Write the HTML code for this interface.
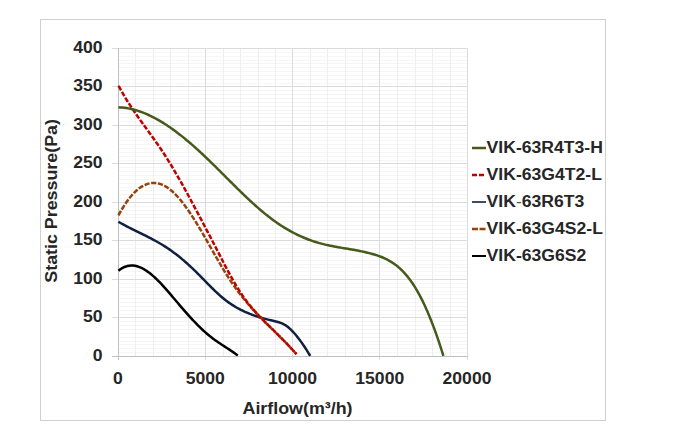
<!DOCTYPE html>
<html><head><meta charset="utf-8"><style>
html,body{margin:0;padding:0;background:#fff;width:686px;height:448px;overflow:hidden;}
svg{display:block;}
text{font-family:"Liberation Sans",sans-serif;}
</style></head><body>
<svg width="686" height="448" viewBox="0 0 686 448">
<rect x="0" y="0" width="686" height="448" fill="#fff"/>
<rect x="40.5" y="19.5" width="565" height="401" fill="none" stroke="#d0d0d0" stroke-width="1"/>
<path d="M119.0 352.5H467.0M119.0 348.5H467.0M119.0 344.5H467.0M119.0 341.5H467.0M119.0 337.5H467.0M119.0 333.5H467.0M119.0 329.5H467.0M119.0 325.5H467.0M119.0 321.5H467.0M119.0 314.5H467.0M119.0 310.5H467.0M119.0 306.5H467.0M119.0 302.5H467.0M119.0 298.5H467.0M119.0 294.5H467.0M119.0 291.5H467.0M119.0 287.5H467.0M119.0 283.5H467.0M119.0 275.5H467.0M119.0 271.5H467.0M119.0 267.5H467.0M119.0 264.5H467.0M119.0 260.5H467.0M119.0 256.5H467.0M119.0 252.5H467.0M119.0 248.5H467.0M119.0 244.5H467.0M119.0 237.5H467.0M119.0 233.5H467.0M119.0 229.5H467.0M119.0 225.5H467.0M119.0 221.5H467.0M119.0 217.5H467.0M119.0 214.5H467.0M119.0 210.5H467.0M119.0 206.5H467.0M119.0 198.5H467.0M119.0 194.5H467.0M119.0 190.5H467.0M119.0 187.5H467.0M119.0 183.5H467.0M119.0 179.5H467.0M119.0 175.5H467.0M119.0 171.5H467.0M119.0 167.5H467.0M119.0 160.5H467.0M119.0 156.5H467.0M119.0 152.5H467.0M119.0 148.5H467.0M119.0 144.5H467.0M119.0 140.5H467.0M119.0 137.5H467.0M119.0 133.5H467.0M119.0 129.5H467.0M119.0 121.5H467.0M119.0 117.5H467.0M119.0 113.5H467.0M119.0 110.5H467.0M119.0 106.5H467.0M119.0 102.5H467.0M119.0 98.5H467.0M119.0 94.5H467.0M119.0 90.5H467.0M119.0 83.5H467.0M119.0 79.5H467.0M119.0 75.5H467.0M119.0 71.5H467.0M119.0 67.5H467.0M119.0 63.5H467.0M119.0 60.5H467.0M119.0 56.5H467.0M119.0 52.5H467.0" stroke="#f6f6f6" stroke-width="1" fill="none"/>
<path d="M135.5 49.0V356.0M153.5 49.0V356.0M170.5 49.0V356.0M188.5 49.0V356.0M223.5 49.0V356.0M240.5 49.0V356.0M258.5 49.0V356.0M275.5 49.0V356.0M310.5 49.0V356.0M327.5 49.0V356.0M345.5 49.0V356.0M362.5 49.0V356.0M397.5 49.0V356.0M415.5 49.0V356.0M432.5 49.0V356.0M450.5 49.0V356.0" stroke="#eeeeee" stroke-width="1" fill="none"/>
<path d="M112.0 317.5H468.0M112.0 279.5H468.0M112.0 240.5H468.0M112.0 202.5H468.0M112.0 163.5H468.0M112.0 125.5H468.0M112.0 86.5H468.0M112.0 48.5H468.0M205.5 48.0V360.0M292.5 48.0V360.0M379.5 48.0V360.0M467.5 48.0V360.0" stroke="#dcdcdc" stroke-width="1" fill="none"/>
<path d="M112 356.5H468M118.5 48V360" stroke="#bfbfbf" stroke-width="1" fill="none"/>
<path d="M118.40 270.78 L119.99 269.57 L121.65 268.46 L123.40 267.50 L125.24 266.70 L127.14 266.10 L129.10 265.71 L131.09 265.53 L133.08 265.58 L135.07 265.83 L137.01 266.27 L138.92 266.88 L140.77 267.62 L142.57 268.49 L144.32 269.46 L146.02 270.51 L147.67 271.64 L149.28 272.83 L150.85 274.07 L152.38 275.35 L153.89 276.67 L155.36 278.03 L156.80 279.41 L158.22 280.82 L159.63 282.24 L161.01 283.69 L162.37 285.15 L163.72 286.63 L165.06 288.11 L166.39 289.61 L167.70 291.12 L169.01 292.63 L170.31 294.15 L171.61 295.67 L172.90 297.19 L174.19 298.72 L175.49 300.25 L176.78 301.78 L178.07 303.31 L179.36 304.83 L180.66 306.35 L181.96 307.87 L183.27 309.38 L184.59 310.89 L185.90 312.39 L187.23 313.89 L188.57 315.38 L189.91 316.86 L191.26 318.34 L192.62 319.80 L193.99 321.26 L195.37 322.70 L196.77 324.14 L198.17 325.56 L199.60 326.97 L201.03 328.36 L202.49 329.73 L203.96 331.09 L205.44 332.42 L206.95 333.74 L208.48 335.02 L210.03 336.29 L211.61 337.52 L213.20 338.73 L214.82 339.91 L216.45 341.07 L218.09 342.20 L219.75 343.32 L221.41 344.43 L223.08 345.53 L224.76 346.62 L226.44 347.71 L228.11 348.81 L229.78 349.91 L231.45 351.02 L233.10 352.14 L234.74 353.28 L236.37 354.44 L237.80 355.49" stroke="#000000" stroke-width="2.5" fill="none" stroke-linejoin="round"/>
<path d="M118.40 221.78 L120.14 222.77 L121.88 223.75 L123.64 224.71 L125.41 225.65 L127.18 226.57 L128.96 227.49 L130.74 228.39 L132.53 229.29 L134.32 230.17 L136.12 231.06 L137.91 231.94 L139.71 232.82 L141.50 233.70 L143.30 234.58 L145.09 235.47 L146.88 236.37 L148.66 237.27 L150.44 238.19 L152.21 239.11 L153.98 240.05 L155.73 241.01 L157.48 241.99 L159.22 242.98 L160.94 243.99 L162.65 245.02 L164.35 246.08 L166.04 247.15 L167.71 248.26 L169.36 249.38 L171.00 250.53 L172.62 251.70 L174.23 252.89 L175.82 254.10 L177.40 255.32 L178.97 256.57 L180.52 257.83 L182.05 259.11 L183.58 260.41 L185.09 261.71 L186.59 263.04 L188.08 264.37 L189.56 265.72 L191.03 267.08 L192.48 268.45 L193.93 269.83 L195.37 271.22 L196.79 272.62 L198.21 274.03 L199.62 275.45 L201.03 276.87 L202.43 278.30 L203.83 279.73 L205.23 281.16 L206.63 282.58 L208.03 284.01 L209.44 285.43 L210.85 286.85 L212.27 288.26 L213.69 289.66 L215.13 291.05 L216.58 292.43 L218.05 293.79 L219.53 295.13 L221.04 296.45 L222.56 297.74 L224.11 299.00 L225.68 300.24 L227.28 301.44 L228.90 302.62 L230.55 303.75 L232.21 304.86 L233.90 305.93 L235.61 306.96 L237.35 307.96 L239.10 308.92 L240.87 309.85 L242.66 310.74 L244.47 311.60 L246.30 312.41 L248.14 313.20 L249.99 313.95 L251.86 314.66 L253.74 315.35 L255.63 316.00 L257.53 316.63 L259.44 317.22 L261.35 317.79 L263.28 318.34 L265.21 318.87 L267.14 319.37 L269.08 319.86 L271.02 320.33 L272.97 320.79 L274.92 321.25 L276.86 321.72 L278.79 322.26 L280.68 322.90 L282.53 323.66 L284.31 324.56 L286.01 325.61 L287.63 326.79 L289.17 328.06 L290.65 329.41 L292.07 330.82 L293.44 332.27 L294.77 333.77 L296.06 335.29 L297.32 336.84 L298.56 338.42 L299.76 340.01 L300.95 341.62 L302.10 343.25 L303.24 344.90 L304.36 346.56 L305.46 348.23 L306.54 349.91 L307.61 351.60 L308.66 353.30 L309.69 355.01 L310.20 355.86" stroke="#0f2040" stroke-width="2.5" fill="none" stroke-linejoin="round"/>
<path d="M118.40 215.46 L119.35 213.70 L120.33 211.95 L121.33 210.22 L122.35 208.50 L123.40 206.80 L124.47 205.11 L125.58 203.45 L126.72 201.80 L127.89 200.18 L129.10 198.59 L130.35 197.03 L131.64 195.50 L132.98 194.01 L134.36 192.57 L135.80 191.19 L137.30 189.86 L138.86 188.60 L140.48 187.43 L142.17 186.36 L143.92 185.40 L145.74 184.58 L147.62 183.90 L149.55 183.40 L151.53 183.08 L153.52 182.95 L155.52 183.03 L157.49 183.30 L159.44 183.76 L161.34 184.38 L163.18 185.16 L164.96 186.06 L166.68 187.08 L168.34 188.20 L169.94 189.40 L171.48 190.67 L172.98 192.00 L174.43 193.38 L175.83 194.80 L177.20 196.26 L178.54 197.75 L179.84 199.26 L181.12 200.80 L182.37 202.37 L183.59 203.95 L184.79 205.55 L185.97 207.16 L187.14 208.79 L188.28 210.42 L189.41 212.07 L190.53 213.73 L191.63 215.40 L192.72 217.08 L193.80 218.77 L194.86 220.46 L195.92 222.16 L196.97 223.86 L198.01 225.57 L199.04 227.28 L200.07 229.00 L201.08 230.72 L202.10 232.44 L203.10 234.17 L204.11 235.90 L205.10 237.64 L206.10 239.37 L207.09 241.11 L208.08 242.85 L209.07 244.59 L210.05 246.33 L211.04 248.07 L212.02 249.81 L213.01 251.55 L213.99 253.29 L214.98 255.03 L215.97 256.76 L216.97 258.50 L217.96 260.23 L218.96 261.97 L219.97 263.69 L220.98 265.42 L222.00 267.14 L223.03 268.86 L224.06 270.57 L225.10 272.28 L226.15 273.98 L227.22 275.67 L228.29 277.36 L229.38 279.03 L230.48 280.70 L231.60 282.36 L232.73 284.02 L233.87 285.66 L235.03 287.29 L236.20 288.91 L237.38 290.52 L238.58 292.13 L239.79 293.72 L241.01 295.30 L242.25 296.87 L243.50 298.43 L244.76 299.98 L246.04 301.52 L247.33 303.05 L248.63 304.57 L249.94 306.08 L251.27 307.58 L252.60 309.07 L253.95 310.54 L255.30 312.01 L256.67 313.47 L258.05 314.93 L259.43 316.37 L260.82 317.81 L262.22 319.24 L263.62 320.66 L265.03 322.08 L266.45 323.49 L267.87 324.90 L269.29 326.31 L270.72 327.71 L272.14 329.11 L273.57 330.51 L275.00 331.92 L276.42 333.32 L277.85 334.72 L279.27 336.13 L280.69 337.54 L282.10 338.95 L283.51 340.37 L284.92 341.79 L286.31 343.23 L287.70 344.66 L289.08 346.11 L290.46 347.56 L291.82 349.03 L293.18 350.50 L294.52 351.98 L295.83 353.44 L296.50 354.19" stroke="#94430a" stroke-width="2.5" fill="none" stroke-linejoin="round" stroke-dasharray="5.2 1.6"/>
<path d="M118.60 85.93 L119.56 87.69 L120.53 89.44 L121.51 91.18 L122.51 92.91 L123.52 94.64 L124.54 96.36 L125.57 98.07 L126.61 99.78 L127.67 101.47 L128.74 103.17 L129.82 104.85 L130.91 106.52 L132.01 108.19 L133.12 109.86 L134.24 111.51 L135.37 113.16 L136.51 114.81 L137.66 116.45 L138.81 118.08 L139.97 119.71 L141.13 121.34 L142.30 122.96 L143.47 124.58 L144.65 126.20 L145.82 127.82 L147.00 129.44 L148.18 131.05 L149.35 132.67 L150.53 134.29 L151.70 135.91 L152.87 137.53 L154.03 139.16 L155.19 140.79 L156.34 142.43 L157.49 144.07 L158.62 145.71 L159.75 147.36 L160.87 149.02 L161.99 150.68 L163.09 152.35 L164.18 154.03 L165.26 155.71 L166.33 157.40 L167.40 159.09 L168.45 160.79 L169.50 162.49 L170.54 164.20 L171.57 165.91 L172.60 167.63 L173.62 169.35 L174.63 171.08 L175.64 172.80 L176.64 174.53 L177.64 176.27 L178.63 178.01 L179.62 179.74 L180.60 181.49 L181.58 183.23 L182.55 184.98 L183.52 186.73 L184.49 188.48 L185.45 190.23 L186.41 191.98 L187.37 193.74 L188.33 195.50 L189.28 197.25 L190.23 199.01 L191.18 200.78 L192.12 202.54 L193.07 204.30 L194.01 206.07 L194.95 207.83 L195.89 209.60 L196.83 211.36 L197.77 213.13 L198.70 214.90 L199.64 216.66 L200.57 218.43 L201.51 220.20 L202.44 221.97 L203.37 223.74 L204.30 225.51 L205.23 227.28 L206.16 229.05 L207.09 230.82 L208.02 232.59 L208.95 234.36 L209.87 236.14 L210.79 237.91 L211.72 239.69 L212.64 241.46 L213.56 243.24 L214.48 245.01 L215.40 246.79 L216.31 248.57 L217.23 250.35 L218.14 252.12 L219.06 253.90 L219.97 255.68 L220.89 257.46 L221.81 259.24 L222.72 261.01 L223.65 262.79 L224.57 264.56 L225.50 266.33 L226.43 268.10 L227.37 269.87 L228.31 271.63 L229.26 273.39 L230.21 275.15 L231.18 276.90 L232.15 278.65 L233.13 280.39 L234.13 282.13 L235.13 283.86 L236.15 285.58 L237.18 287.30 L238.22 289.00 L239.29 290.69 L240.37 292.38 L241.47 294.04 L242.60 295.70 L243.74 297.34 L244.90 298.97 L246.09 300.58 L247.29 302.17 L248.52 303.75 L249.76 305.32 L251.03 306.87 L252.31 308.40 L253.62 309.92 L254.94 311.42 L256.28 312.91 L257.63 314.38 L259.00 315.84 L260.38 317.28 L261.77 318.72 L263.18 320.14 L264.59 321.55 L266.01 322.96 L267.44 324.36 L268.87 325.76 L270.31 327.15 L271.74 328.55 L273.17 329.94 L274.60 331.34 L276.03 332.74 L277.45 334.15 L278.87 335.56 L280.28 336.97 L281.69 338.40 L283.09 339.82 L284.49 341.25 L285.88 342.69 L287.26 344.14 L288.64 345.59 L290.01 347.05 L291.37 348.51 L292.72 349.99 L294.07 351.47 L295.40 352.95 L296.50 354.18" stroke="#c00000" stroke-width="2.5" fill="none" stroke-linejoin="round" stroke-dasharray="5 1.7"/>
<path d="M118.40 107.27 L120.40 107.38 L122.39 107.54 L124.38 107.77 L126.36 108.05 L128.33 108.39 L130.29 108.78 L132.24 109.23 L134.18 109.72 L136.10 110.27 L138.01 110.86 L139.91 111.49 L141.79 112.17 L143.66 112.89 L145.51 113.64 L147.34 114.44 L149.17 115.26 L150.97 116.12 L152.76 117.01 L154.54 117.93 L156.30 118.88 L158.05 119.85 L159.78 120.85 L161.50 121.87 L163.20 122.92 L164.89 123.99 L166.57 125.07 L168.24 126.18 L169.89 127.31 L171.53 128.45 L173.16 129.61 L174.78 130.79 L176.38 131.98 L177.98 133.18 L179.56 134.40 L181.14 135.64 L182.70 136.88 L184.26 138.14 L185.81 139.41 L187.34 140.69 L188.87 141.98 L190.39 143.28 L191.90 144.59 L193.41 145.90 L194.90 147.23 L196.39 148.57 L197.88 149.91 L199.35 151.26 L200.82 152.61 L202.28 153.98 L203.74 155.35 L205.19 156.72 L206.64 158.10 L208.08 159.49 L209.52 160.88 L210.95 162.28 L212.38 163.67 L213.81 165.07 L215.24 166.48 L216.66 167.88 L218.08 169.29 L219.50 170.70 L220.91 172.11 L222.33 173.53 L223.74 174.94 L225.16 176.35 L226.57 177.77 L227.99 179.18 L229.40 180.60 L230.82 182.01 L232.24 183.42 L233.66 184.83 L235.08 186.24 L236.50 187.64 L237.92 189.04 L239.35 190.44 L240.79 191.84 L242.22 193.23 L243.66 194.62 L245.11 196.00 L246.56 197.38 L248.01 198.75 L249.47 200.12 L250.94 201.48 L252.41 202.84 L253.89 204.18 L255.37 205.52 L256.87 206.85 L258.37 208.17 L259.88 209.48 L261.40 210.78 L262.93 212.06 L264.47 213.34 L266.03 214.60 L267.59 215.85 L269.16 217.08 L270.75 218.30 L272.35 219.50 L273.96 220.68 L275.59 221.85 L277.23 222.99 L278.89 224.11 L280.55 225.22 L282.23 226.30 L283.93 227.36 L285.64 228.40 L287.36 229.42 L289.09 230.41 L290.84 231.39 L292.60 232.33 L294.38 233.26 L296.16 234.16 L297.96 235.03 L299.77 235.88 L301.60 236.70 L303.43 237.50 L305.28 238.27 L307.14 239.01 L309.00 239.72 L310.88 240.41 L312.77 241.06 L314.67 241.69 L316.58 242.29 L318.49 242.86 L320.42 243.40 L322.35 243.91 L324.29 244.40 L326.24 244.86 L328.19 245.29 L330.15 245.71 L332.11 246.10 L334.07 246.48 L336.04 246.84 L338.01 247.19 L339.98 247.53 L341.95 247.86 L343.93 248.19 L345.90 248.52 L347.87 248.84 L349.84 249.17 L351.82 249.51 L353.79 249.85 L355.76 250.20 L357.72 250.57 L359.69 250.95 L361.65 251.35 L363.60 251.76 L365.55 252.20 L367.50 252.66 L369.44 253.15 L371.37 253.67 L373.29 254.22 L375.21 254.80 L377.11 255.41 L379.00 256.06 L380.87 256.76 L382.73 257.51 L384.56 258.32 L386.36 259.18 L388.14 260.10 L389.88 261.08 L391.59 262.12 L393.26 263.22 L394.90 264.37 L396.49 265.58 L398.04 266.84 L399.55 268.15 L401.02 269.51 L402.45 270.91 L403.83 272.35 L405.18 273.83 L406.49 275.34 L407.76 276.89 L409.00 278.46 L410.20 280.06 L411.36 281.68 L412.50 283.33 L413.61 284.99 L414.68 286.68 L415.73 288.38 L416.75 290.10 L417.75 291.83 L418.73 293.58 L419.68 295.34 L420.61 297.11 L421.52 298.89 L422.42 300.68 L423.29 302.47 L424.15 304.28 L425.00 306.09 L425.82 307.91 L426.64 309.74 L427.44 311.57 L428.23 313.41 L429.00 315.26 L429.76 317.11 L430.51 318.96 L431.25 320.82 L431.98 322.68 L432.70 324.55 L433.41 326.42 L434.11 328.29 L434.80 330.17 L435.48 332.05 L436.16 333.93 L436.82 335.82 L437.48 337.71 L438.13 339.60 L438.77 341.49 L439.40 343.39 L440.03 345.29 L440.65 347.19 L441.27 349.09 L441.87 351.00 L442.47 352.90 L443.06 354.79 L443.40 355.88" stroke="#465a1c" stroke-width="2.5" fill="none" stroke-linejoin="round"/>
<text transform="translate(102.60 360.90) scale(1.035 1)" font-family="Liberation Sans, sans-serif" font-weight="bold" font-size="17" fill="#262626" text-anchor="end">0</text>
<text transform="translate(102.60 322.40) scale(1.035 1)" font-family="Liberation Sans, sans-serif" font-weight="bold" font-size="17" fill="#262626" text-anchor="end">50</text>
<text transform="translate(102.60 283.90) scale(1.035 1)" font-family="Liberation Sans, sans-serif" font-weight="bold" font-size="17" fill="#262626" text-anchor="end">100</text>
<text transform="translate(102.60 245.40) scale(1.035 1)" font-family="Liberation Sans, sans-serif" font-weight="bold" font-size="17" fill="#262626" text-anchor="end">150</text>
<text transform="translate(102.60 206.90) scale(1.035 1)" font-family="Liberation Sans, sans-serif" font-weight="bold" font-size="17" fill="#262626" text-anchor="end">200</text>
<text transform="translate(102.60 168.40) scale(1.035 1)" font-family="Liberation Sans, sans-serif" font-weight="bold" font-size="17" fill="#262626" text-anchor="end">250</text>
<text transform="translate(102.60 129.90) scale(1.035 1)" font-family="Liberation Sans, sans-serif" font-weight="bold" font-size="17" fill="#262626" text-anchor="end">300</text>
<text transform="translate(102.60 91.40) scale(1.035 1)" font-family="Liberation Sans, sans-serif" font-weight="bold" font-size="17" fill="#262626" text-anchor="end">350</text>
<text transform="translate(102.60 52.90) scale(1.035 1)" font-family="Liberation Sans, sans-serif" font-weight="bold" font-size="17" fill="#262626" text-anchor="end">400</text>
<text transform="translate(118.00 383.60) scale(1.035 1)" font-family="Liberation Sans, sans-serif" font-weight="bold" font-size="17" fill="#262626" text-anchor="middle">0</text>
<text transform="translate(205.25 383.60) scale(1.035 1)" font-family="Liberation Sans, sans-serif" font-weight="bold" font-size="17" fill="#262626" text-anchor="middle">5000</text>
<text transform="translate(292.50 383.60) scale(1.035 1)" font-family="Liberation Sans, sans-serif" font-weight="bold" font-size="17" fill="#262626" text-anchor="middle">10000</text>
<text transform="translate(379.75 383.60) scale(1.035 1)" font-family="Liberation Sans, sans-serif" font-weight="bold" font-size="17" fill="#262626" text-anchor="middle">15000</text>
<text transform="translate(467.00 383.60) scale(1.035 1)" font-family="Liberation Sans, sans-serif" font-weight="bold" font-size="17" fill="#262626" text-anchor="middle">20000</text>
<text transform="translate(297.50 413.60) scale(1.050 1)" font-family="Liberation Sans, sans-serif" font-weight="bold" font-size="17" fill="#262626" text-anchor="middle">Airflow(m³/h)</text>
<text transform="translate(56.90 200.90) rotate(-90) scale(1.050 1)" font-family="Liberation Sans, sans-serif" font-weight="bold" font-size="17" fill="#262626" text-anchor="middle">Static Pressure(Pa)</text>
<path d="M472 148.0H486" stroke="#465a1c" stroke-width="2.5"/>
<text transform="translate(486.60 153.45) scale(1.035 1)" font-family="Liberation Sans, sans-serif" font-weight="bold" font-size="17" fill="#262626" text-anchor="start">VIK-63R4T3-H</text>
<path d="M472 175.0H486" stroke="#c00000" stroke-width="2.5" stroke-dasharray="5 2"/>
<text transform="translate(486.60 180.45) scale(1.035 1)" font-family="Liberation Sans, sans-serif" font-weight="bold" font-size="17" fill="#262626" text-anchor="start">VIK-63G4T2-L</text>
<path d="M472 202.0H486" stroke="#0f2040" stroke-width="1.6"/>
<text transform="translate(486.60 207.45) scale(1.035 1)" font-family="Liberation Sans, sans-serif" font-weight="bold" font-size="17" fill="#262626" text-anchor="start">VIK<tspan font-weight="normal" fill="#555">-</tspan>63R6T3</text>
<path d="M472 229.0H486" stroke="#94430a" stroke-width="2.5" stroke-dasharray="6 1.5"/>
<text transform="translate(486.60 234.45) scale(1.035 1)" font-family="Liberation Sans, sans-serif" font-weight="bold" font-size="17" fill="#262626" text-anchor="start">VIK-63G4S2-L</text>
<path d="M472 256.0H486" stroke="#000000" stroke-width="2"/>
<text transform="translate(486.60 261.45) scale(1.035 1)" font-family="Liberation Sans, sans-serif" font-weight="bold" font-size="17" fill="#262626" text-anchor="start">VIK-63G6S2</text>
</svg>
</body></html>
